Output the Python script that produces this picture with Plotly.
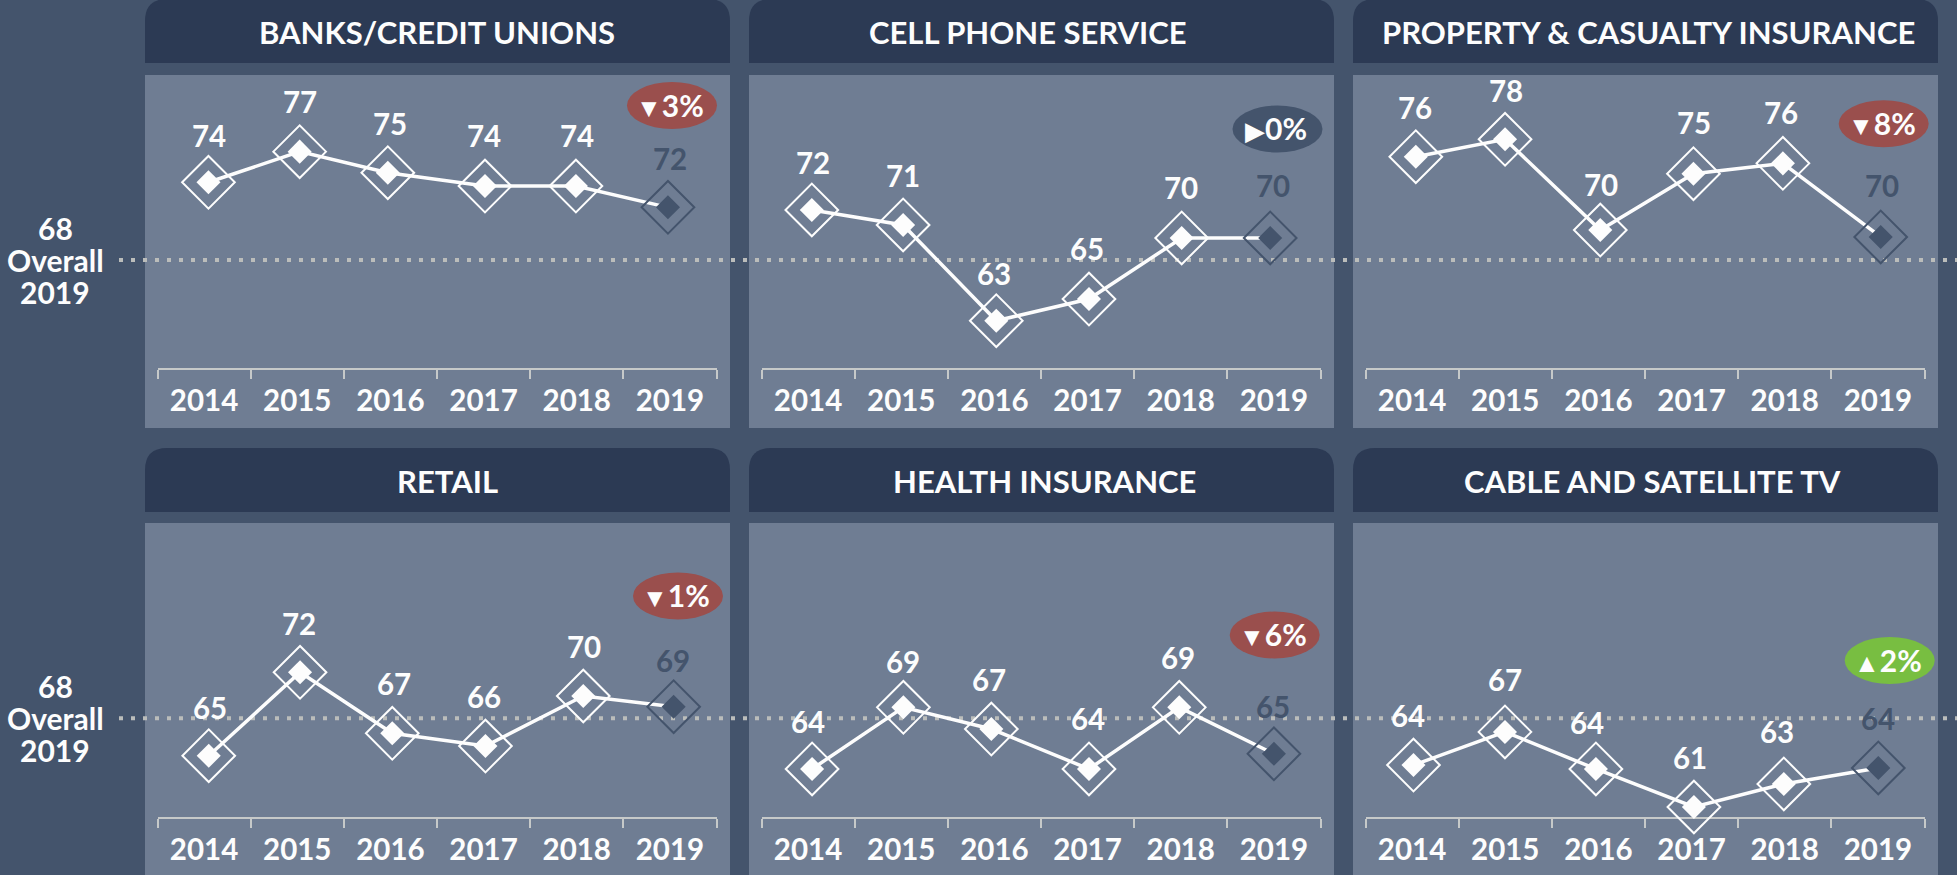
import plotly.graph_objects as go

W, H = 1957, 875

# ---- data ----
years = [2014, 2015, 2016, 2017, 2018, 2019]
overall_value = 68
overall_year = 2019

banks_labels = [74, 77, 75, 74, 74, 72]
phone_labels = [72, 71, 63, 65, 70, 70]
property_labels = [76, 78, 70, 75, 76, 70]
retail_labels = [65, 72, 67, 66, 70, 69]
health_labels = [64, 69, 67, 64, 69, 65]
cable_labels = [64, 67, 64, 61, 63, 64]

# plotted values (the labels are rounded differently)
banks_values = [74.17, 76.6, 74.93, 73.87, 73.87, 72.18]
phone_values = [71.97, 70.78, 63.18, 64.9, 69.75, 69.75]
property_values = [76.2, 77.58, 70.38, 74.85, 75.67, 69.83]
retail_values = [65.03, 71.65, 66.81, 65.8, 69.77, 68.92]
health_values = [63.98, 68.87, 67.15, 63.98, 68.87, 65.18]
cable_values = [64.29, 66.92, 63.98, 60.96, 62.79, 64.06]

# plotted year positions
banks_x = [2014.047, 2015.026, 2015.972, 2017.015, 2017.991, 2018.979]
phone_x = [2014.04, 2015.02, 2016.02, 2017.015, 2018.01, 2018.96]
property_x = [2014.04, 2014.998, 2016.02, 2017.02, 2017.98, 2019.03]
retail_x = [2014.05, 2015.03, 2016.02, 2017.02, 2018.07, 2019.04]
health_x = [2014.043, 2015.023, 2015.967, 2017.015, 2017.984, 2019.0]
cable_x = [2014.015, 2014.997, 2015.973, 2017.025, 2017.99, 2019.004]

categories = ["BANKS/CREDIT UNIONS", "CELL PHONE SERVICE", "PROPERTY & CASUALTY INSURANCE",
              "RETAIL", "HEALTH INSURANCE", "CABLE AND SATELLITE TV"]
changes = ["3%", "0%", "8%", "1%", "6%", "2%"]
directions = ["down", "flat", "down", "down", "down", "up"]

all_labels = [banks_labels, phone_labels, property_labels, retail_labels, health_labels, cable_labels]
all_values = [banks_values, phone_values, property_values, retail_values, health_values, cable_values]
all_x = [banks_x, phone_x, property_x, retail_x, health_x, cable_x]

# ---- layout constants (pixels) ----
BG = "#44546c"
BODY = "#6f7d93"
HEADER = "#2c3a54"
WHITE = "#fdfdfd"
AXIS = "#c6c9c9"
DOTS = "#bbbdbb"
PT = 12.6
FONT = "Lato"
TEXT = 29.5

panel_left = [145, 749, 1353]
PANEL_W = 585
rows = [dict(head_top=-1, head_bot=63, body_top=75, body_bot=428, axis=368, ref=260),
        dict(head_top=448, head_bot=512, body_top=523, body_bot=876, axis=817, ref=718.3)]
title_dx = [-0.5, -14, 3, 10, 2.5, 7]
badges = [(672, 105.5), (1277.5, 129), (1883.7, 123.8), (678, 596), (1274.7, 635), (1889.7, 660.5)]
BADGE_COL = {"down": "#9a4f4d", "flat": "#44546c", "up": "#78be41"}
GLYPH = {"down": "\u25bc", "flat": "\u25b6", "up": "\u25b2"}
label_dx = [[5.4, 2.4, 0, 0, 0, 0], [5, 2, 0, -1, 0, -1], [3, 1, 3, 2, -4, 4],
            [6, 2, 4, 0, 7, 3], [0, 1.5, -5, 0, -3, -1], [-3.6, 0, -11.5, -1.7, -7.3, 0]]
label_dy = [[47, 50, 49, 51, 51, 49], [47, 49, 47, 51, 50, 52], [49, 49, 46, 51, 51, 51],
            [48, 49, 50, 50, 50, 46], [47, 46, 50, 50, 50, 47], [50, 52, 46, 50, 52, 49]]


def px(x):
    return x / W


def py(y):
    return 1 - y / H


fig = go.Figure()
shapes, annos = [], []
layout_axes = {}

for r, row in enumerate(rows):
    for c, left in enumerate(panel_left):
        i = r * 3 + c
        n = "" if i == 0 else str(i + 1)
        # panel body + header
        shapes.append(dict(type="rect", xref="paper", yref="paper", layer="below", line_width=0,
                           x0=px(left), x1=px(left + PANEL_W), y0=py(row["body_bot"]), y1=py(row["body_top"]),
                           fillcolor=BODY))
        x0, x1, t, b, rad = left, left + PANEL_W, row["head_top"], row["head_bot"], 22
        path = (f"M {px(x0)} {py(b)} L {px(x0)} {py(t + rad)} "
                f"Q {px(x0)} {py(t)} {px(x0 + rad)} {py(t)} L {px(x1 - rad)} {py(t)} "
                f"Q {px(x1)} {py(t)} {px(x1)} {py(t + rad)} L {px(x1)} {py(b)} Z")
        shapes.append(dict(type="path", path=path, xref="paper", yref="paper", layer="below",
                           line_width=0, fillcolor=HEADER))
        annos.append(dict(text=f"<b>{categories[i]}</b>", xref="paper", yref="paper", showarrow=False,
                          x=px(left + PANEL_W / 2 + title_dx[i]),
                          y=py((row["head_top"] + row["head_bot"]) / 2 + 0.5),
                          xanchor="center", yanchor="middle", font=dict(family=FONT, size=31, color=WHITE)))

        # axes
        ax0 = left + 12.5
        ax1 = ax0 + 559
        ylo = overall_value - (row["axis"] - row["ref"]) / PT
        yhi = overall_value + (row["ref"] - row["body_top"]) / PT
        layout_axes[f"xaxis{n}"] = dict(
            domain=[px(ax0), px(ax1)], range=[2013.5, 2019.5], anchor=f"y{n}",
            tickmode="array", tickvals=years, ticktext=[str(y) for y in years], ticks="",
            ticklabelstandoff=6,
            tickfont=dict(family=FONT, size=TEXT, color=WHITE, weight=700),
            showgrid=False, zeroline=False, showline=True, linecolor=AXIS, linewidth=2,
            minor=dict(tickmode="array", tickvals=[y - 0.5 for y in years] + [2019.5], ticks="outside",
                       ticklen=9, tickwidth=2, tickcolor=AXIS, showgrid=False),
            layer="below traces")
        layout_axes[f"yaxis{n}"] = dict(domain=[py(row["axis"]), py(row["body_top"])], range=[ylo, yhi],
                                        anchor=f"x{n}", visible=False)

        # marks
        xs, ys, labs = all_x[i], all_values[i], all_labels[i]
        xa, ya = f"x{n}", f"y{n}"
        fig.add_trace(go.Scatter(x=xs, y=ys, mode="lines", xaxis=xa, yaxis=ya, cliponaxis=False,
                                 line=dict(color=WHITE, width=3.5), hoverinfo="skip", showlegend=False))
        cols = [WHITE] * 5 + [BG]
        fig.add_trace(go.Scatter(x=xs, y=ys, mode="markers", xaxis=xa, yaxis=ya, cliponaxis=False,
                                 marker=dict(symbol="diamond-open", size=40.5, color=cols,
                                             line=dict(width=2, color=cols)),
                                 hoverinfo="skip", showlegend=False))
        fig.add_trace(go.Scatter(x=xs, y=ys, mode="markers", xaxis=xa, yaxis=ya, cliponaxis=False,
                                 marker=dict(symbol="diamond", size=18.5, color=cols, line_width=0),
                                 hoverinfo="skip", showlegend=False))
        for j in range(6):
            annos.append(dict(text=f"<b>{labs[j]}</b>", x=years[j], y=ys[j], xref=xa, yref=ya, showarrow=False,
                              xshift=label_dx[i][j], yshift=label_dy[i][j], xanchor="center", yanchor="middle",
                              font=dict(family=FONT, size=TEXT, color=WHITE if j < 5 else BG)))

        # change badge
        bx, by = badges[i]
        shapes.append(dict(type="circle", xref="paper", yref="paper", layer="below", line_width=0,
                           x0=px(bx - 45), x1=px(bx + 45), y0=py(by + 23.5), y1=py(by - 23.5),
                           fillcolor=BADGE_COL[directions[i]]))
        annos.append(dict(text=f'<span style="font-size:26px">{GLYPH[directions[i]]}</span><b>{changes[i]}</b>',
                          xref="paper", yref="paper", x=px(bx - 2), y=py(by - 1), showarrow=False,
                          xanchor="center", yanchor="middle", font=dict(family=FONT, size=30, color=WHITE)))

    # overall reference line + label
    yref = "y" if r == 0 else "y4"
    shapes.append(dict(type="line", xref="paper", yref=yref, layer="below", x0=px(119), x1=1,
                       y0=overall_value, y1=overall_value, line=dict(color=DOTS, width=4, dash="4px,8px")))
    for k, txt in enumerate([str(overall_value), "Overall", str(overall_year)]):
        annos.append(dict(text=f"<b>{txt}</b>", xref="paper", yref="paper", showarrow=False,
                          x=px(55), y=py(row["ref"] + (k - 1) * 32), xanchor="center", yanchor="middle",
                          font=dict(family=FONT, size=30, color=WHITE)))

fig.update_layout(width=W, height=H, margin=dict(l=0, r=0, t=0, b=0), autosize=False,
                  paper_bgcolor=BG, plot_bgcolor="rgba(0,0,0,0)", showlegend=False,
                  shapes=shapes, annotations=annos, font=dict(family=FONT), **layout_axes)

fig.write_html("out.html", config={"displayModeBar": False},
               post_script="document.body.style.margin='0';document.body.style.overflow='hidden';")
